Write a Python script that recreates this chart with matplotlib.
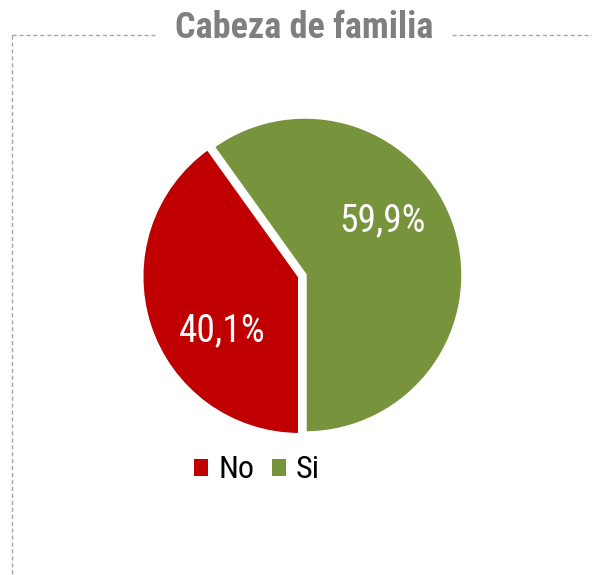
import matplotlib
matplotlib.use("Agg")
import numpy as np
import matplotlib.pyplot as plt
from matplotlib.lines import Line2D
from matplotlib.patches import Patch

labels = ["No", "Si"]
values = [40.1, 59.9]
colors = ["#C00000", "#77933C"]
title = "Cabeza de familia"

plt.rcParams['font.family'] = ['Roboto Condensed', 'Liberation Sans Narrow', 'DejaVu Sans']
plt.rcParams['font.stretch'] = 'condensed'

W, H = 592, 575
fig = plt.figure(figsize=(W / 100, H / 100), dpi=100)

# dashed frame (left and top), broken by the title
frame = dict(color="#A6A6A6", lw=1.0, ls=(0, (3, 2)), transform=fig.transFigure)
fig.add_artist(Line2D([12 / W, 12 / W], [1 - 35 / H, 0], **frame))
fig.add_artist(Line2D([12 / W, 155 / W], [1 - 35 / H, 1 - 35 / H], **frame))
fig.add_artist(Line2D([452 / W, 1], [1 - 35 / H, 1 - 35 / H], **frame))
fig.text(304 / W, 1 - 38 / H, title, ha="center", va="baseline",
         fontsize=26, fontweight="bold", color="#7F7F7F")

# pie axes, radius 158 px centred at (305, 275)
r = 158
half = r * 1.2
ax = fig.add_axes([(305 - half) / W, (H - 275 - half) / H, 2 * half / W, 2 * half / H])
wedges, texts, autotexts = ax.pie(
    values, colors=colors, startangle=270, counterclock=False,
    explode=[0.035, 0], radius=1,
    autopct=lambda p: f"{p:.1f}%".replace(".", ","), pctdistance=0.6,
    wedgeprops=dict(edgecolor="white", linewidth=2.5),
    textprops=dict(color="white", fontsize=27))

# labels sit a bit counter-clockwise of the slice middle, like the original
for w, t in zip(wedges, autotexts):
    mid = np.deg2rad((w.theta1 + w.theta2) / 2 + 17)
    cx, cy = w.center
    t.set_position((cx + 0.6 * np.cos(mid), cy + 0.6 * np.sin(mid)))
    t.set_va("center")

ax.set_xlim(-1.2, 1.2)
ax.set_ylim(-1.2, 1.2)
ax.set_aspect("equal")
ax.axis("off")

handles = [Patch(facecolor=c, edgecolor="none") for c in colors]
fig.legend(handles, labels, loc="center", bbox_to_anchor=(257 / W, 1 - 470 / H),
           ncol=2, frameon=False, fontsize=23, handlelength=0.44, handleheight=0.44,
           handletextpad=0.32, columnspacing=0.55, borderpad=0)

fig.savefig("out.png", dpi=100)
